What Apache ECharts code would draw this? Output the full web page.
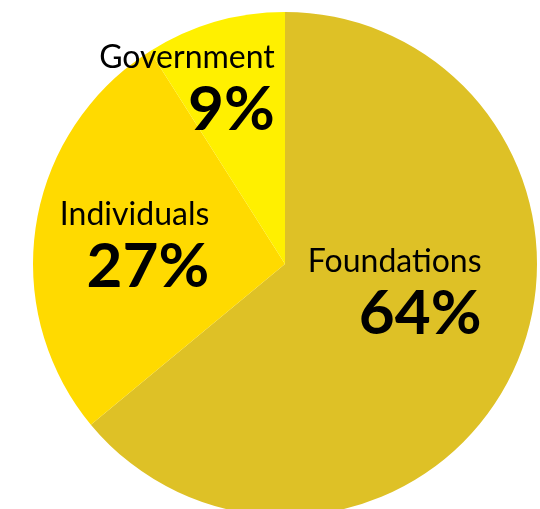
<!DOCTYPE html>
<html>
<head>
<meta charset="utf-8">
<script src="https://cdn.jsdelivr.net/npm/echarts@6/dist/echarts.min.js"></script>
<style>
html,body{margin:0;padding:0;background:#fff;}
#chart{width:540px;height:509px;}
</style>
</head>
<body>
<div id="chart"></div>
<script>
const categories = ['Foundations', 'Individuals', 'Government'];
const shares = [64, 27, 9];
const colors = ['#DEC126', '#FFDA00', '#FFF000'];
const labelOffsets = [[-7, -29], [-23, -1], [-62, -54]];

const chart = echarts.init(document.getElementById('chart'));
chart.setOption({
  animation: false,
  series: [{
    type: 'pie',
    center: [285, 264],
    radius: 252,
    startAngle: 90,
    clockwise: true,
    silent: true,
    label: {
      show: true,
      position: 'inside',
      formatter: p => '{n|' + p.name + '}\n{v|' + p.value + '%}',
      rich: {
        n: { fontFamily: 'Lato', fontSize: 32, fontWeight: 400, color: '#000', align: 'right', lineHeight: 48 },
        v: { fontFamily: 'Lato', fontSize: 62, fontWeight: 700, color: '#000', align: 'right', lineHeight: 56 }
      }
    },
    labelLine: { show: false },
    itemStyle: { borderWidth: 0 },
    data: categories.map((c, i) => ({
      name: c,
      value: shares[i],
      itemStyle: { color: colors[i] },
      label: { offset: labelOffsets[i] }
    }))
  }]
});
</script>
</body>
</html>
